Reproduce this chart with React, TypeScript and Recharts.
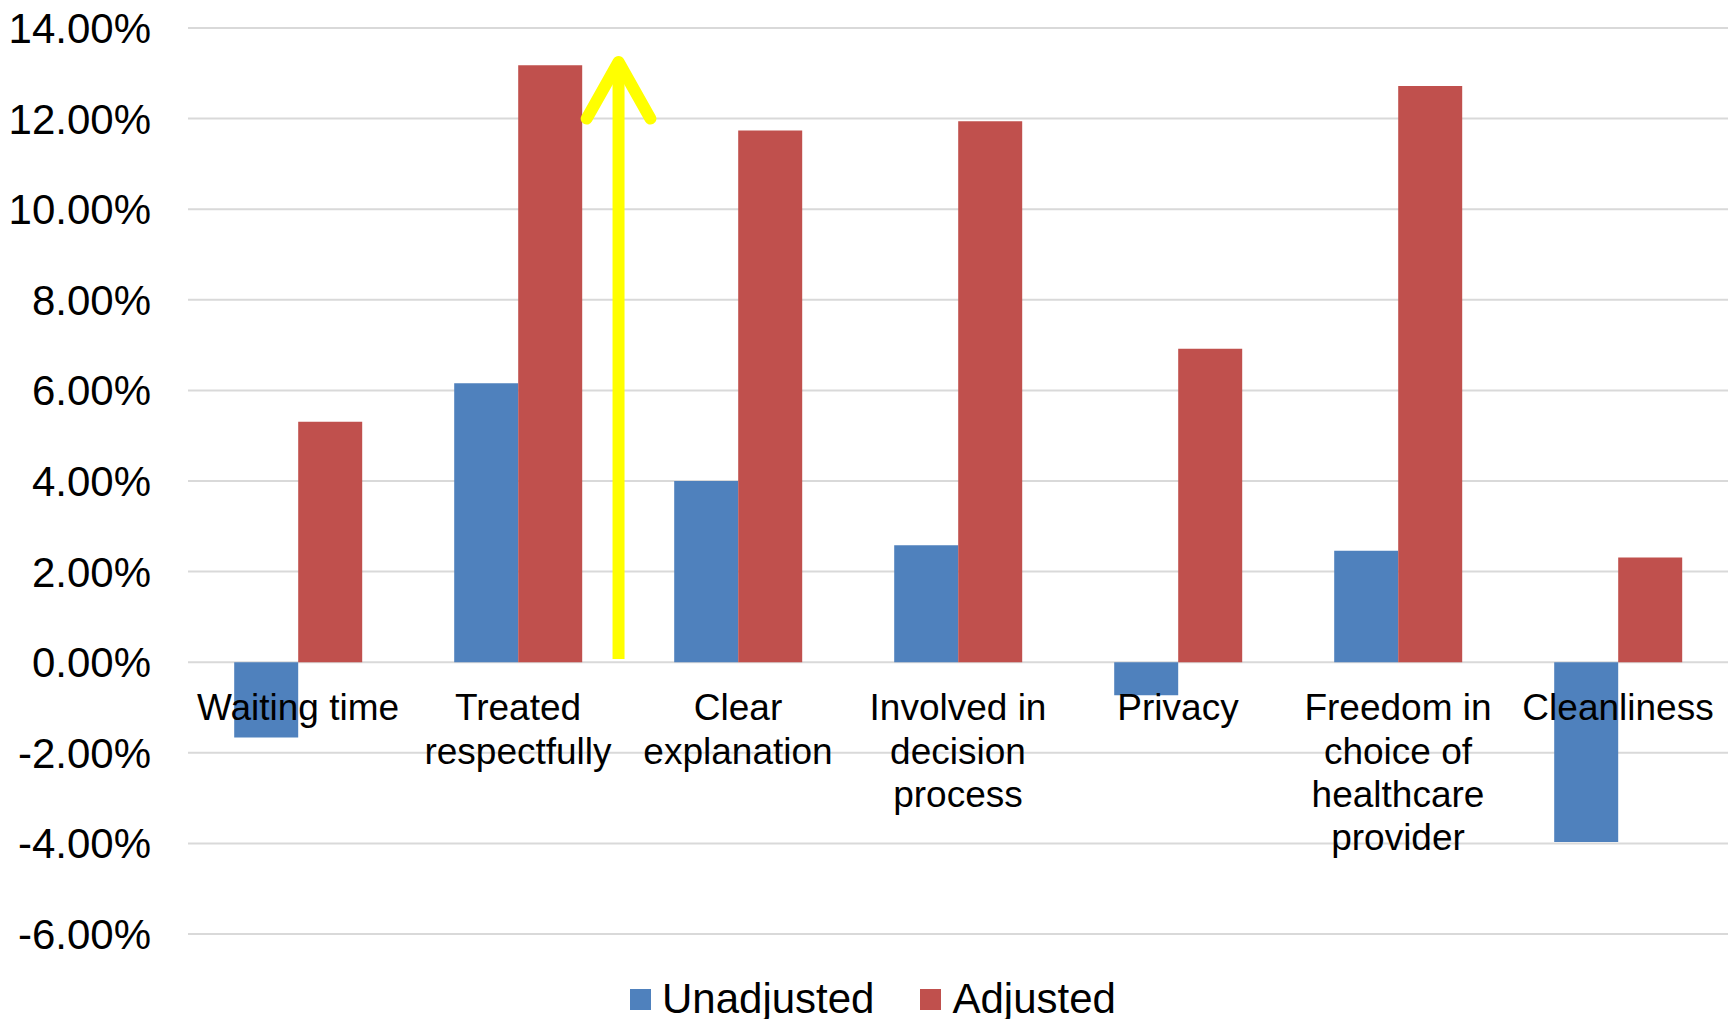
import React from "react";
import {
  BarChart,
  Bar,
  XAxis,
  YAxis,
  CartesianGrid,
} from "recharts";

const categories = [
  "Waiting time",
  "Treated\nrespectfully",
  "Clear\nexplanation",
  "Involved in\ndecision\nprocess",
  "Privacy",
  "Freedom in\nchoice of\nhealthcare\nprovider",
  "Cleanliness",
];
const unadjusted = [-1.66, 6.16, 4.0, 2.58, -0.73, 2.46, -3.97];
const adjusted = [5.31, 13.18, 11.74, 11.94, 6.92, 12.72, 2.31];
const yTicks = [-6, -4, -2, 0, 2, 4, 6, 8, 10, 12, 14];
const seriesNames = ["Unadjusted", "Adjusted"];
const seriesColors = ["#4F81BD", "#C0504D"];

// yellow annotation arrow, in category units (x) and percent (y)
const arrowX = 1.957;
const arrowBase = 0.07;
const arrowTip = 13.25;
const arrowArmY = 12.0;
const arrowArmHalf = 0.145;

const W = 1731;
const H = 1019;
const TOP = 28;
const BOTTOM = 85;
const X_AXIS_H = 30;
const LEFT = 188;
const RIGHT = 3;
const Y_MIN = -6;
const Y_MAX = 14;
const PLOT_H = H - TOP - BOTTOM;
const BAND = (W - LEFT - RIGHT) / categories.length;
const yPx = (v: number) => TOP + ((Y_MAX - v) / (Y_MAX - Y_MIN)) * PLOT_H;
const xPx = (c: number) => LEFT + c * BAND;
const ZERO_Y = yPx(0);
const FONT = '"Liberation Sans", Arial, sans-serif';

const data = categories.map((c, i) => ({
  name: c,
  unadjusted: unadjusted[i],
  adjusted: adjusted[i],
}));

// Excel puts the labels under the zero line, not under the plot
function CatTick(props: any) {
  const { x, payload } = props;
  const lines = String(payload.value).split("\n");
  return (
    <text
      x={x}
      y={ZERO_Y + 58}
      textAnchor="middle"
      fontSize={37}
      fontFamily={FONT}
      fill="#000"
    >
      {lines.map((l, i) => (
        <tspan key={i} x={x} dy={i === 0 ? 0 : 43.4}>
          {l}
        </tspan>
      ))}
    </text>
  );
}

export default function App() {
  const ax = xPx(arrowX);
  const armDx = arrowArmHalf * BAND;
  return (
    <div style={{ position: "absolute", left: 0, top: 0, width: W, height: H, background: "#fff" }}>
      <BarChart
        width={W}
        height={H}
        data={data}
        margin={{ top: TOP, right: RIGHT, bottom: BOTTOM - X_AXIS_H, left: 0 }}
        barCategoryGap="21%"
        barGap={0}
      >
        <CartesianGrid vertical={false} stroke="#D9D9D9" strokeWidth={2} />
        <XAxis
          dataKey="name"
          height={X_AXIS_H}
          interval={0}
          axisLine={false}
          tickLine={false}
          tick={<CatTick />}
        />
        <YAxis
          width={LEFT}
          domain={[Y_MIN, Y_MAX]}
          ticks={yTicks}
          interval={0}
          axisLine={false}
          tickLine={false}
          tickSize={0}
          tickMargin={37}
          tickFormatter={(v: number) => `${v.toFixed(2)}%`}
          tick={{ fontSize: 42, fill: "#000", fontFamily: FONT }}
        />
        <Bar dataKey="unadjusted" fill={seriesColors[0]} isAnimationActive={false} />
        <Bar dataKey="adjusted" fill={seriesColors[1]} isAnimationActive={false} />
      </BarChart>
      <svg
        width={W}
        height={H}
        style={{ position: "absolute", left: 0, top: 0, pointerEvents: "none" }}
      >
        <line
          x1={ax}
          y1={yPx(arrowBase)}
          x2={ax}
          y2={yPx(arrowTip)}
          stroke="#FFFF00"
          strokeWidth={12}
        />
        <polyline
          points={`${ax - armDx},${yPx(arrowArmY)} ${ax},${yPx(arrowTip)} ${ax + armDx},${yPx(arrowArmY)}`}
          fill="none"
          stroke="#FFFF00"
          strokeWidth={12}
          strokeLinecap="round"
          strokeLinejoin="round"
        />
      </svg>
      <div
        style={{
          position: "absolute",
          left: 630,
          top: 975,
          display: "flex",
          alignItems: "center",
          fontFamily: FONT,
          fontSize: 42,
          color: "#000",
          lineHeight: "48px",
        }}
      >
        {seriesNames.map((n, i) => (
          <div key={n} style={{ display: "flex", alignItems: "center", marginRight: 46 }}>
            <span style={{ width: 21, height: 21, background: seriesColors[i], marginRight: 11, display: "inline-block" }} />
            <span>{n}</span>
          </div>
        ))}
      </div>
    </div>
  );
}
